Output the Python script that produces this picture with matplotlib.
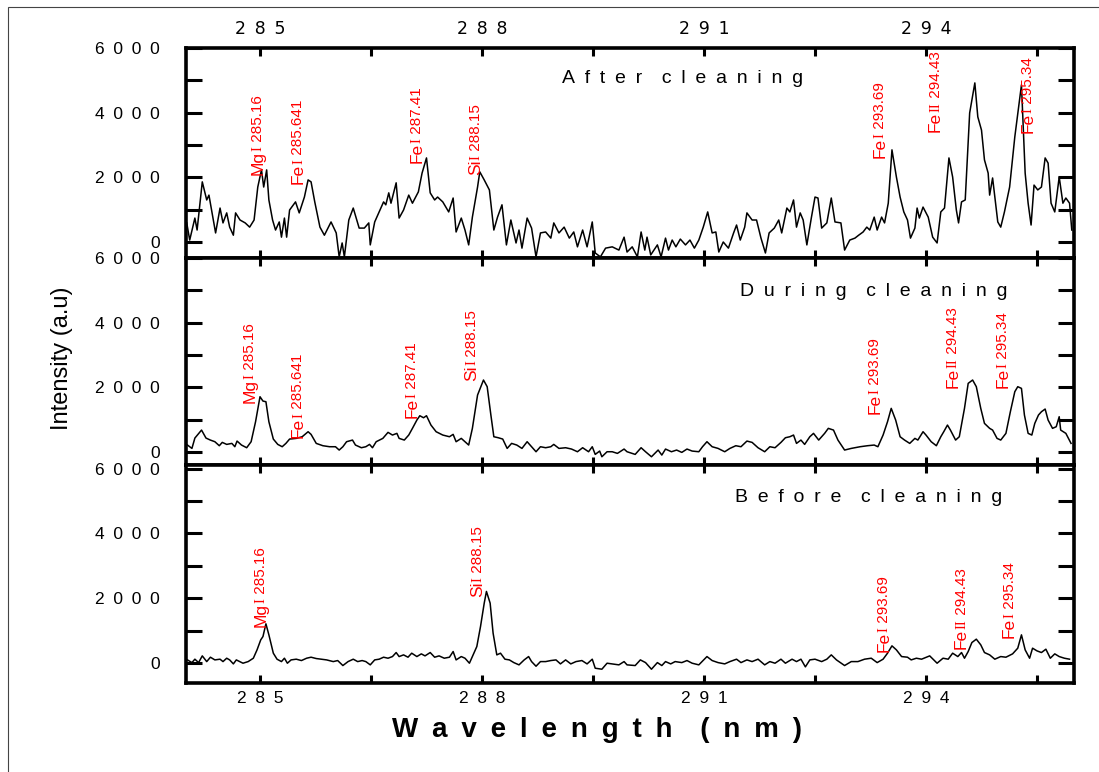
import matplotlib.pyplot as plt
from matplotlib.ticker import MultipleLocator, FuncFormatter
from matplotlib.patches import Rectangle
from matplotlib import font_manager

SANS = ['Liberation Sans', 'DejaVu Sans']
SERIF = ['Liberation Serif', 'DejaVu Serif']
names = {f.name for f in font_manager.fontManager.ttflist}
NARROW = [n for n in ['Liberation Sans Narrow', 'DejaVu Sans Condensed'] if n in names] + SANS
SP = '\u2002'

# spectra (wavelength nm, intensity a.u)
after_wl = [284.01, 284.05, 284.12, 284.15, 284.22, 284.28, 284.31, 284.35, 284.40, 284.46,
            284.50, 284.55, 284.59, 284.64, 284.67, 284.73, 284.80, 284.86, 284.92, 284.97,
            285.02, 285.05, 285.09, 285.12, 285.17, 285.21, 285.26, 285.29, 285.33, 285.36,
            285.40, 285.48, 285.53, 285.60, 285.65, 285.69, 285.74, 285.81, 285.87, 285.96,
            286.03, 286.07, 286.11, 286.14, 286.20, 286.26, 286.34, 286.41, 286.47, 286.49,
            286.55, 286.61, 286.67, 286.70, 286.74, 286.77, 286.84, 286.88, 286.94, 287.01,
            287.06, 287.14, 287.19, 287.25, 287.30, 287.36, 287.40, 287.47, 287.55, 287.61,
            287.65, 287.72, 287.77, 287.82, 287.87, 287.94, 287.97, 288.03, 288.10, 288.16,
            288.21, 288.27, 288.33, 288.39, 288.46, 288.50, 288.54, 288.61, 288.67, 288.73,
            288.79, 288.86, 288.93, 288.97, 289.04, 289.11, 289.18, 289.24, 289.29, 289.36,
            289.42, 289.49, 289.53, 289.60, 289.67, 289.76, 289.85, 289.92, 289.96,
            290.03, 290.10, 290.15, 290.20, 290.23, 290.28, 290.37, 290.42, 290.48, 290.52,
            290.57, 290.62, 290.68, 290.75, 290.81, 290.87, 290.93, 290.99, 291.05, 291.11,
            291.16, 291.20, 291.26, 291.33, 291.40, 291.44, 291.49, 291.55, 291.58, 291.65,
            291.71, 291.77, 291.83, 291.88, 291.95, 292.01, 292.05, 292.12, 292.16, 292.21,
            292.25, 292.30, 292.34, 292.39, 292.45, 292.50, 292.54, 292.59, 292.66, 292.72,
            292.77, 292.85, 292.90, 292.97, 293.04, 293.09, 293.15, 293.20, 293.24, 293.30,
            293.34, 293.40, 293.44, 293.49, 293.54, 293.60, 293.65, 293.70, 293.75, 293.79,
            293.85, 293.88, 293.91, 293.96, 294.03, 294.09, 294.15, 294.20, 294.25, 294.31,
            294.36, 294.41, 294.44, 294.48, 294.53, 294.59, 294.66, 294.70, 294.75, 294.79,
            294.84, 294.86, 294.90, 294.97, 295.01, 295.06, 295.13, 295.20, 295.29, 295.34,
            295.38, 295.42, 295.46, 295.51, 295.56, 295.61, 295.65, 295.69, 295.74, 295.80,
            295.85, 295.89, 295.94, 295.97]
after_int = [590, 60, 740, 370, 1860, 1300, 1450, 930, 280, 1050,
             590, 900, 460, 210, 900, 680, 590, 460, 680, 1700,
             2230, 1700, 2230, 1300, 680, 370, 620, 150, 740, 150,
             990, 1240, 900, 1390, 1920, 1860, 1240, 460, 210, 620,
             280, -460, -30, -460, 680, 1050, 430, 430, 590, -90,
             620, 930, 1240, 1150, 1520, 1200, 1830, 740, 990, 1450,
             1200, 1550, 2130, 2600, 1520, 1300, 1390, 1240, 930, 1360,
             310, 740, 370, -90, 770, 1700, 2170, 1920, 1610, 370,
             770, 1150, -90, 680, -30, 370, -190, 740, 430, -460,
             280, 310, 120, 590, 280, 460, 120, 310, -150, 370,
             -150, 620, -340, -460, -190, -150, -250, 150, -310,
             -150, -460, 310, -250, 150, -400, -90, -460, 120, -250,
             60, -150, 90, -90, 60, -190, 60, 460, 930, 280,
             310, -310, 0, -190, 280, 525, 60, 460, 900, 680,
             680, 120, -340, 280, 430, 680, 280, 1050, 930, 1300,
             460, 900, 680, -90, 740, 1390, 1360, 430, 590, 1360,
             620, 590, -250, 60, 120, 210, 310, 460, 370, 770,
             370, 770, 590, 1200, 2850, 2010, 1390, 930, 680, 120,
             430, 1050, 740, 1080, 770, 150, -30, 930, 1050, 2600,
             2010, 990, 590, 1240, 1300, 3990, 4920, 3870, 3460, 2540,
             2130, 1450, 1980, 620, 460, 930, 1700, 3250, 4860, 2130,
             1200, 525, 1760, 1610, 1700, 2600, 2440, 1200, 930, 2010,
             1200, 1360, 1200, 370]

during_wl = [284.02, 284.08, 284.12, 284.21, 284.27, 284.33, 284.39, 284.45, 284.49, 284.55,
             284.62, 284.66, 284.69, 284.75, 284.82, 284.88, 284.94, 285.00, 285.04, 285.08,
             285.12, 285.18, 285.24, 285.30, 285.35, 285.40, 285.49, 285.57, 285.65, 285.69,
             285.76, 285.85, 285.94, 286.02, 286.07, 286.12, 286.17, 286.25, 286.29, 286.37,
             286.43, 286.48, 286.52, 286.57, 286.66, 286.73, 286.79, 286.85, 286.88, 286.95,
             287.01, 287.06, 287.12, 287.16, 287.21, 287.25, 287.31, 287.38, 287.47, 287.56,
             287.61, 287.65, 287.72, 287.77, 287.82, 287.87, 287.94, 288.02, 288.07, 288.12,
             288.16, 288.22, 288.28, 288.34, 288.40, 288.47, 288.54, 288.61, 288.67, 288.73,
             288.79, 288.86, 288.93, 288.97, 289.04, 289.13, 289.21, 289.29, 289.36, 289.44,
             289.49, 289.53, 289.59, 289.62, 289.69, 289.76, 289.83, 289.92, 289.96,
             290.07, 290.15, 290.21, 290.29, 290.38, 290.43, 290.48, 290.56, 290.63, 290.70,
             290.77, 290.84, 290.93, 290.98, 291.04, 291.11, 291.19, 291.28, 291.35, 291.43,
             291.50, 291.58, 291.65, 291.73, 291.82, 291.89, 291.96, 292.04, 292.10, 292.16,
             292.21, 292.25, 292.31, 292.36, 292.43, 292.48, 292.55, 292.63, 292.68, 292.75,
             292.81, 292.90, 292.99, 293.11, 293.21, 293.30, 293.35, 293.42, 293.48, 293.53,
             293.59, 293.65, 293.71, 293.78, 293.85, 293.89, 293.96, 294.00, 294.07, 294.14,
             294.20, 294.24, 294.29, 294.33, 294.40, 294.45, 294.52, 294.57, 294.63, 294.68,
             294.74, 294.79, 294.86, 294.90, 294.96, 295.01, 295.08, 295.14, 295.20, 295.24,
             295.29, 295.33, 295.38, 295.43, 295.47, 295.52, 295.56, 295.61, 295.65, 295.71,
             295.76, 295.80, 295.82, 295.89, 295.96]
during_int = [217, 113, 433, 680, 433, 370, 320, 196, 299, 237,
              268, 165, 340, 217, 134, 320, 938, 1711, 1577, 1556,
              938, 402, 237, 165, 268, 402, 423, 474, 629, 547,
              268, 196, 165, 165, 62, 165, 320, 371, 217, 134,
              165, 237, 134, 320, 423, 609, 526, 578, 423, 371,
              526, 733, 990, 1123, 1061, 1123, 835, 629, 526, 474,
              547, 320, 423, 320, 217, 733, 1763, 2227, 2021, 1145,
              474, 443, 402, 113, 268, 217, 113, 320, 165, 10,
              165, 134, 165, 237, 113, 134, 93, 10, 134, 10,
              165, -72, 31, -145, 10, 10, -41, 93, 10,
              -72, 134, 10, -145, 62, -93, 93, 10, 62, -10,
              93, 31, 10, 165, 320, 165, 113, 10, 113, 196,
              165, 340, 299, 134, 10, 165, 134, 299, 443, 474,
              526, 268, 371, 237, 474, 578, 371, 578, 733, 680,
              371, 62, 113, 165, 196, 217, 165, 526, 938, 1351,
              990, 474, 371, 268, 423, 371, 629, 526, 320, 196,
              474, 629, 835, 680, 371, 474, 1351, 2124, 2227, 2021,
              1351, 887, 733, 680, 423, 371, 578, 1247, 1866, 2021,
              1969, 1145, 578, 526, 887, 1145, 1247, 1330, 990, 733,
              784, 1093, 680, 578, 268]

before_wl = [284.02, 284.08, 284.12, 284.17, 284.22, 284.28, 284.33, 284.39, 284.46, 284.50,
             284.55, 284.59, 284.64, 284.68, 284.77, 284.84, 284.91, 284.96, 285.01, 285.04,
             285.08, 285.12, 285.18, 285.23, 285.29, 285.33, 285.37, 285.42, 285.49, 285.56,
             285.63, 285.69, 285.76, 285.83, 285.90, 285.99, 286.05, 286.12, 286.19, 286.26,
             286.32, 286.38, 286.43, 286.49, 286.55, 286.61, 286.67, 286.73, 286.79, 286.84,
             286.88, 286.94, 287.00, 287.05, 287.12, 287.18, 287.23, 287.30, 287.36, 287.42,
             287.49, 287.56, 287.61, 287.65, 287.72, 287.77, 287.83, 287.87, 287.93, 287.98,
             288.03, 288.06, 288.11, 288.15, 288.20, 288.25, 288.31, 288.37, 288.43, 288.50,
             288.57, 288.63, 288.67, 288.73, 288.79, 288.86, 288.93, 289.00, 289.06, 289.13,
             289.20, 289.27, 289.35, 289.42, 289.49, 289.53, 289.62, 289.69, 289.76, 289.85,
             289.92, 289.96,
             290.07, 290.14, 290.21, 290.29, 290.37, 290.43, 290.48, 290.55, 290.61, 290.70,
             290.77, 290.84, 290.93, 291.04, 291.11, 291.19, 291.28, 291.35, 291.44, 291.50,
             291.58, 291.65, 291.73, 291.82, 291.89, 291.96, 292.04, 292.10, 292.19, 292.25,
             292.31, 292.37, 292.43, 292.50, 292.59, 292.66, 292.72, 292.79, 292.90, 292.99,
             293.08, 293.17, 293.26, 293.34, 293.42, 293.48, 293.54, 293.60, 293.67, 293.75,
             293.80, 293.87, 293.94, 294.05, 294.15, 294.23, 294.30, 294.36, 294.43, 294.48,
             294.52, 294.57, 294.62, 294.68, 294.74, 294.79, 294.86, 294.93, 295.01, 295.08,
             295.17, 295.24, 295.29, 295.34, 295.40, 295.44, 295.50, 295.56, 295.62, 295.68,
             295.74, 295.80, 295.87, 295.94]
before_int = [102, 19, 124, 19, 226, 50, 185, 102, 124, 50,
              154, 102, -21, 102, 0, 50, 154, 411, 720, 822,
              1214, 874, 309, 124, 50, 154, 0, 102, 124, 82,
              154, 185, 144, 124, 102, 50, 82, -72, 50, 124,
              50, 82, 50, -51, 102, 124, 185, 154, 205, 329,
              205, 257, 185, 309, 205, 288, 226, 329, 185, 226,
              154, 185, 360, 102, 205, 154, 0, 205, 514, 1132,
              1852, 2212, 1852, 926, 257, 309, 124, 102, 19, -51,
              102, 205, 50, -93, 50, 50, 82, 102, -21, 102,
              -21, 50, 82, -21, 124, -154, -185, 0, -21, -51,
              50, -51,
              -72, 102, 19, -185, 19, -72, 50, -21, 50, 19,
              82, 0, -51, 205, 82, 19, -21, 50, 124, 19,
              102, 50, 124, -51, 50, 0, 124, 0, 124, 50,
              124, -113, 102, 124, 50, 124, 257, 102, -72, 50,
              50, 124, 154, 19, 124, 309, 535, 411, 205, 185,
              102, 154, 124, 226, 0, 154, 124, 309, 205, 329,
              154, 360, 637, 741, 566, 329, 257, 124, 205, 185,
              288, 463, 874, 411, 154, 463, 380, 329, 432, 154,
              288, 205, 154, 124]

# line labels: (x, y of text foot, element, ion stage, wavelength)
after_lines = [(284.97, 2070, 'Mg', 'I', '285.16'), (285.52, 1790, 'Fe', 'I', '285.641'),
               (287.12, 2440, 'Fe', 'I', '287.41'), (287.92, 2070, 'Si', 'I', '288.15'),
               (293.38, 2600, 'Fe', 'I', '293.69'), (294.13, 3400, 'Fe', 'II', '294.43'),
               (295.38, 3370, 'Fe', 'I', '295.34')]
during_lines = [(284.86, 1515, 'Mg', 'I', '285.16'), (285.52, 433, 'Fe', 'I', '285.641'),
                (287.06, 1050, 'Fe', 'I', '287.41'), (287.86, 2200, 'Si', 'I', '288.15'),
                (293.31, 1170, 'Fe', 'I', '293.69'), (294.36, 1980, 'Fe', 'II', '294.43'),
                (295.04, 1980, 'Fe', 'I', '295.34')]
before_lines = [(285.01, 1110, 'Mg', 'I', '285.16'), (287.94, 2040, 'Si', 'I', '288.15'),
                (293.43, 340, 'Fe', 'I', '293.69'), (294.48, 430, 'Fe', 'II', '294.43'),
                (295.13, 770, 'Fe', 'I', '295.34')]

W, H = 1099, 772
fig = plt.figure(figsize=(W / 100, H / 100), dpi=100)
fig.patches.append(Rectangle((8 / W, -0.1), 1.2, 1.1 - 7 / H, transform=fig.transFigure,
                             fill=False, edgecolor='#444444', linewidth=0.8))


def spaced(s, sep=SP):
    return sep.join(s)


def add_label(ax, x, y, elem, ion, wl):
    t1 = ax.text(x, y, elem, rotation=90, ha='center', va='bottom', color='red',
                 fontsize=12.5, family=NARROW)
    t2 = ax.annotate(ion, xy=(0.5, 1), xycoords=t1, ha='center', va='bottom',
                     rotation=90, color='red', fontsize=10.5, family=SERIF)
    ax.annotate(' ' + wl, xy=(0.5, 1), xycoords=t2, ha='center', va='bottom',
                rotation=90, color='red', fontsize=11, family=NARROW)


# panel boxes in pixels: (top, bottom), and y limits
panels = [
    (48, 258, (-495, 6000), after_wl, after_int, after_lines, 'After cleaning', 0.423, 0.857),
    (258, 465, (-400, 6000), during_wl, during_int, during_lines, 'During cleaning', 0.624, 0.836),
    (465, 683, (-610, 6110), before_wl, before_int, before_lines, 'Before cleaning', 0.618, 0.853),
]

for i, (top, bot, ylim, wl, inten, lines, title, tx, ty) in enumerate(panels):
    ax = fig.add_axes([186 / W, 1 - bot / H, 888 / W, (bot - top) / H])
    ax.plot(wl, inten, color='black', linewidth=1.1)
    ax.set_xlim(284.0, 296.0)
    ax.set_ylim(*ylim)
    for s in ax.spines.values():
        s.set_linewidth(2.6)
    ax.xaxis.set_major_locator(MultipleLocator(3))
    ax.xaxis.set_minor_locator(MultipleLocator(1.5))
    ax.yaxis.set_major_locator(MultipleLocator(2000))
    ax.yaxis.set_minor_locator(MultipleLocator(1000))
    ax.tick_params(axis='x', which='both', direction='in', top=True, bottom=True,
                   length=6, width=2.2)
    ax.tick_params(axis='y', which='both', direction='in', left=True, right=True,
                   length=11.5, width=2.2)
    ax.tick_params(axis='y', labelsize=12.5, pad=19)
    ax.tick_params(axis='x', labelsize=12.5)
    ax.yaxis.set_major_formatter(FuncFormatter(lambda v, p: spaced(f'{v:.0f}')))
    ax.xaxis.set_major_formatter(FuncFormatter(lambda v, p: spaced(f'{v:.0f}')))
    for lab in ax.get_xticklabels() + ax.get_yticklabels():
        lab.set_family(SANS)
    if i == 0:
        ax.tick_params(axis='x', labeltop=True, labelbottom=False, pad=7)
    elif i == 2:
        ax.tick_params(axis='x', labelbottom=True, pad=6)
    else:
        ax.tick_params(axis='x', labelbottom=False)
    words = title.split(' ')
    ax.text(tx, ty, (SP * 2).join(spaced(w) for w in words), transform=ax.transAxes,
            ha='left', va='center', fontsize=14, family=SANS)
    for x, y, elem, ion, w in lines:
        add_label(ax, x, y, elem, ion, w)

fig.text(62 / W, 1 - 358 / H, 'Intensity (a.u)', rotation=90, ha='center', va='center',
         fontsize=17, family=SANS)
fig.text(597 / W, 1 - 730 / H, '  '.join(['W a v e l e n g t h', '( n m )']).replace(' ', SP),
         ha='center', va='center', fontsize=20, fontweight='bold', family=SANS)

fig.savefig('out.png', dpi=100)
